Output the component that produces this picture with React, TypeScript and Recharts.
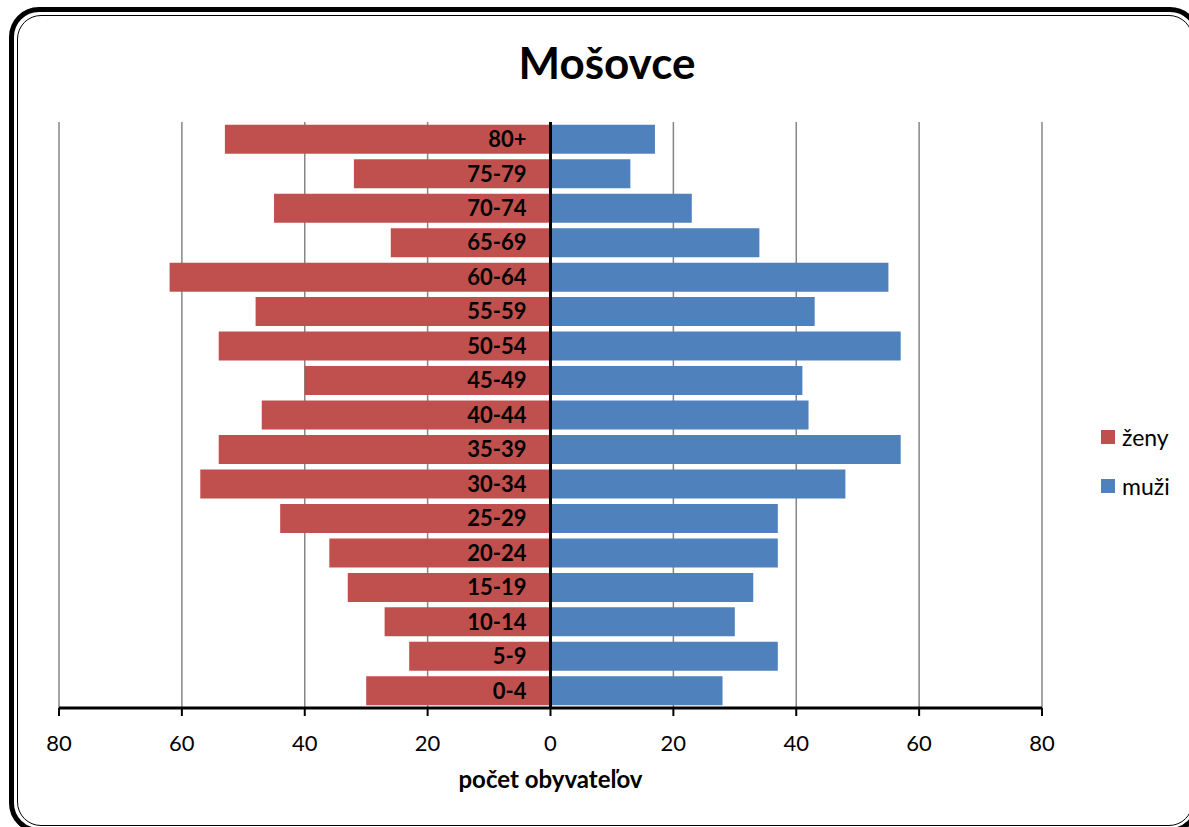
import { Bar, BarChart, CartesianGrid, LabelList, ReferenceLine, XAxis, YAxis } from "recharts";

const ageGroups = [
  "80+", "75-79", "70-74", "65-69", "60-64", "55-59", "50-54", "45-49", "40-44",
  "35-39", "30-34", "25-29", "20-24", "15-19", "10-14", "5-9", "0-4"
];
const women = [53, 32, 45, 26, 62, 48, 54, 40, 47, 54, 57, 44, 36, 33, 27, 23, 30];
const men = [17, 13, 23, 34, 55, 43, 57, 41, 42, 57, 48, 37, 37, 33, 30, 37, 28];
const xTicks = [-80, -60, -40, -20, 0, 20, 40, 60, 80];
const seriesNames = ["ženy", "muži"];
const seriesColors = ["#C0504D", "#4F81BD"];
const chartTitle = "Mošovce";
const xAxisTitle = "počet obyvateľov";

const FONT = "Lato, 'Open Sans', sans-serif";

// women go left of zero, so store them negative
const data = ageGroups.map((age, i) => ({ age, zeny: -women[i], muzi: men[i] }));

export default function App() {
  return (
    <div
      style={{
        position: "absolute",
        left: 0,
        top: 0,
        width: 1189,
        height: 827,
        overflow: "hidden",
        background: "#fff",
        fontFamily: FONT
      }}
    >
      {/* double rounded frame, right edge runs off the picture */}
      <div
        style={{
          position: "absolute",
          left: 9,
          top: 7,
          width: 1191,
          height: 826,
          border: "5px solid #000",
          borderRadius: 30,
          boxSizing: "border-box"
        }}
      >
        <div
          style={{
            position: "absolute",
            inset: 2.5,
            border: "1.5px solid #000",
            borderRadius: 24
          }}
        />
      </div>

      <div
        style={{
          position: "absolute",
          left: 607,
          top: 36,
          transform: "translateX(-50%)",
          fontSize: 44,
          lineHeight: "52px",
          fontWeight: 700,
          whiteSpace: "nowrap"
        }}
      >
        {chartTitle}
      </div>

      <div style={{ position: "absolute", left: 0, top: 0 }}>
        <BarChart
          width={1189}
          height={827}
          data={data}
          layout="vertical"
          stackOffset="sign"
          barCategoryGap="8%"
          margin={{ top: 122, right: 147, bottom: 39, left: 59 }}
        >
          <CartesianGrid horizontal={false} stroke="#868686" strokeWidth={1.5} />
          <XAxis
            type="number"
            domain={[-80, 80]}
            ticks={xTicks}
            tickFormatter={(v: number) => String(Math.abs(v))}
            height={80}
            axisLine={{ stroke: "#000", strokeWidth: 3 }}
            tickLine={{ stroke: "#000", strokeWidth: 2 }}
            tickSize={8}
            tickMargin={19}
            tick={{ fill: "#000", fontSize: 22, fontFamily: FONT }}
            label={{
              value: xAxisTitle,
              position: "insideBottom",
              offset: 0,
              fill: "#000",
              fontSize: 24,
              fontWeight: 700,
              fontFamily: FONT
            }}
          />
          <YAxis type="category" dataKey="age" hide />
          <Bar
            dataKey="zeny"
            name={seriesNames[0]}
            stackId="pyr"
            fill={seriesColors[0]}
            isAnimationActive={false}
          />
          <Bar
            dataKey="muzi"
            name={seriesNames[1]}
            stackId="pyr"
            fill={seriesColors[1]}
            isAnimationActive={false}
          >
            <LabelList
              dataKey="age"
              position="left"
              offset={24}
              fill="#000"
              fontSize={22}
              fontWeight={700}
              fontFamily={FONT}
            />
          </Bar>
          <ReferenceLine x={0} stroke="#000" strokeWidth={3} />
        </BarChart>
      </div>

      {/* legend */}
      <div style={{ position: "absolute", left: 1101, top: 412 }}>
        {seriesNames.map((name, i) => (
          <div
            key={name}
            style={{ display: "flex", alignItems: "center", height: 49, fontSize: 23 }}
          >
            <span
              style={{
                display: "inline-block",
                width: 14,
                height: 14,
                background: seriesColors[i],
                marginRight: 7
              }}
            />
            {name}
          </div>
        ))}
      </div>
    </div>
  );
}
